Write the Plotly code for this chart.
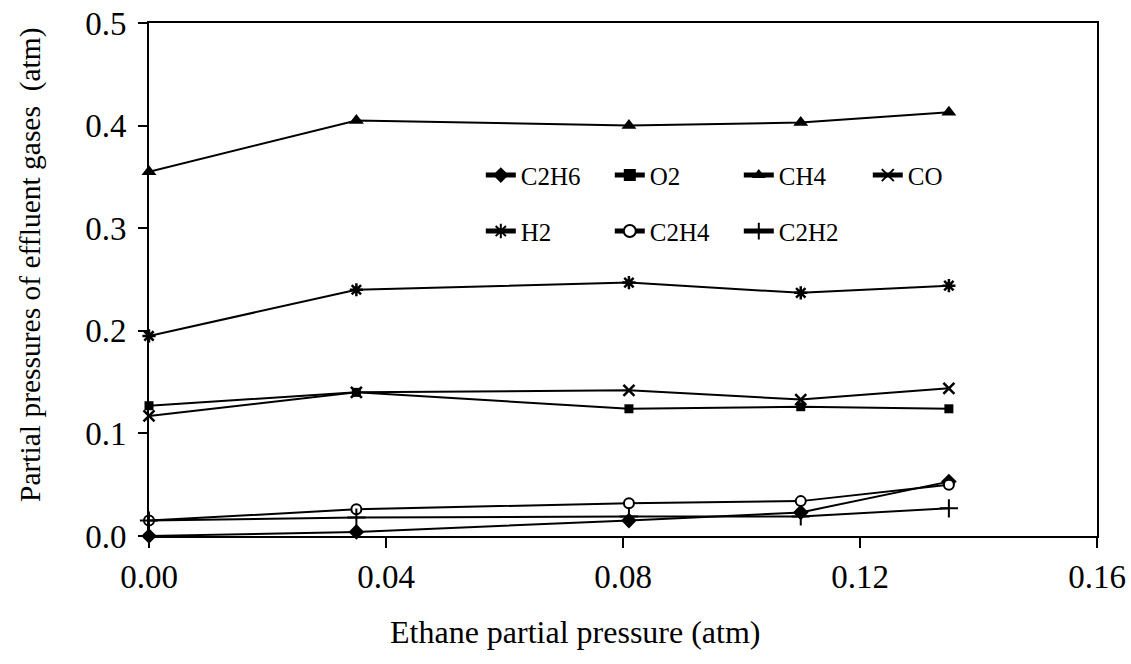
import plotly.graph_objects as go

# Ethane partial pressure fed to the reactor (atm)
ethane = [0.0, 0.035, 0.081, 0.110, 0.135]

# Partial pressures of effluent gases (atm)
c2h6 = [0.000, 0.004, 0.015, 0.023, 0.053]
o2 = [0.127, 0.140, 0.124, 0.126, 0.124]
ch4 = [0.355, 0.405, 0.400, 0.403, 0.413]
co = [0.117, 0.140, 0.142, 0.133, 0.144]
h2 = [0.195, 0.240, 0.247, 0.237, 0.244]
c2h4 = [0.015, 0.026, 0.032, 0.034, 0.050]
c2h2 = [0.015, 0.018, 0.019, 0.019, 0.027]

x_ticks = [0.0, 0.04, 0.08, 0.12, 0.16]
x_tick_text = ["0.00", "0.04", "0.08", "0.12", "0.16"]
y_ticks = [0.0, 0.1, 0.2, 0.3, 0.4, 0.5]
y_tick_text = ["0.0", "0.1", "0.2", "0.3", "0.4", "0.5"]

x_title = "Ethane partial pressure (atm)"
y_title = "Partial pressures of effluent gases  (atm)"

FONT = "Liberation Serif"

series = [
    ("C2H6", c2h6, dict(symbol="diamond", size=12, color="black"), "legend"),
    ("O2", o2, dict(symbol="square", size=9, color="black"), "legend"),
    ("CH4", ch4, dict(symbol="triangle-up", size=13, color="black"), "legend"),
    ("CO", co, dict(symbol="x-thin-open", size=11, color="black",
                    line=dict(width=2.5, color="black")), "legend"),
    ("H2", h2, dict(symbol="asterisk-open", size=11, color="black",
                    line=dict(width=2.5, color="black")), "legend2"),
    ("C2H4", c2h4, dict(symbol="circle", size=10, color="white",
                        line=dict(width=2, color="black")), "legend2"),
    ("C2H2", c2h2, dict(symbol="cross-thin-open", size=13, color="black",
                        line=dict(width=2, color="black")), "legend2"),
]

fig = go.Figure()
for name, vals, marker, leg in series:
    fig.add_trace(go.Scatter(
        x=ethane, y=vals, name=name, mode="lines+markers",
        line=dict(color="black", width=2),
        marker=marker, legend=leg, cliponaxis=False,
    ))

legend_style = dict(
    orientation="h", xanchor="left", yanchor="middle",
    font=dict(family=FONT, size=25, color="black"),
    bgcolor="rgba(0,0,0,0)", entrywidth=84, entrywidthmode="pixels",
    itemsizing="constant", tracegroupgap=0,
)

fig.update_layout(
    width=1131, height=664,
    margin=dict(l=149, r=34, t=23, b=128, autoexpand=False),
    paper_bgcolor="white", plot_bgcolor="white",
    font=dict(family=FONT, color="black"),
    showlegend=True,
    legend=dict(x=0.350, y=0.703, **legend_style),
    legend2=dict(x=0.350, y=0.594, **legend_style),
    xaxis=dict(
        range=[0, 0.16], tickvals=x_ticks, ticktext=x_tick_text,
        showgrid=False, zeroline=False,
        showline=True, linecolor="black", linewidth=2, mirror=True,
        ticks="outside", ticklen=10, tickwidth=2, tickcolor="black",
        tickfont=dict(family=FONT, size=33, color="black"),
    ),
    yaxis=dict(
        range=[0, 0.5], tickvals=y_ticks, ticktext=y_tick_text,
        showgrid=False, zeroline=False,
        showline=True, linecolor="black", linewidth=2, mirror=True,
        ticks="outside", ticklen=9, tickwidth=2, tickcolor="black",
        tickfont=dict(family=FONT, size=33, color="black"),
        ticklabelstandoff=5,
    ),
    annotations=[
        dict(text=x_title, xref="paper", yref="paper",
             x=(575 - 149) / 948, y=(536 - 632) / 513,
             xanchor="center", yanchor="middle", showarrow=False,
             font=dict(family=FONT, size=32, color="black")),
        dict(text=y_title, xref="paper", yref="paper",
             x=(30 - 149) / 948, y=(536 - 265) / 513, textangle=-90,
             xanchor="center", yanchor="middle", showarrow=False,
             font=dict(family=FONT, size=29.5, color="black")),
    ],
)

fig.write_html("out.html")
